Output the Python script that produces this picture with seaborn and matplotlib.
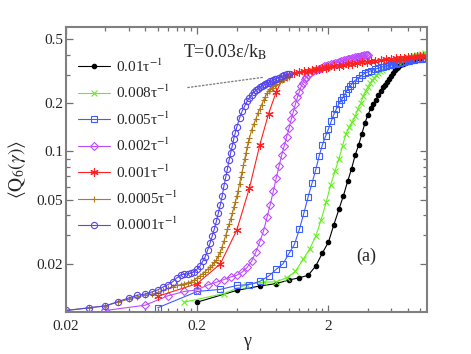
import matplotlib
matplotlib.use('Agg')
import matplotlib.pyplot as plt
import seaborn as sns
from matplotlib.ticker import FixedLocator, NullFormatter, LogLocator

# strain gamma and <Q6(gamma)> for each shear rate
g_001 = [0.2, 0.4, 0.6, 0.8, 1.0, 1.2, 1.4, 1.6, 1.8, 2.0, 2.2, 2.4, 2.6, 2.8, 3.0,
         3.2, 3.4, 3.6, 3.8, 4.0, 4.2, 4.4, 4.6, 4.8, 5.0, 5.2, 5.4, 5.6, 5.8, 6.0,
         6.2, 6.4, 6.6, 6.8, 7.0, 7.2, 7.4, 7.6, 7.8, 8.0, 8.4, 8.8, 9.2, 9.6, 10.0, 10.4]
q_001 = [0.0115, 0.0136, 0.0145, 0.0150, 0.0158, 0.0163, 0.0169, 0.0193, 0.0233, 0.0272,
         0.0350, 0.0434, 0.053, 0.065, 0.078, 0.095, 0.110, 0.129, 0.151, 0.169,
         0.185, 0.198, 0.210, 0.224, 0.239, 0.250, 0.260, 0.270, 0.283, 0.296,
         0.309, 0.320, 0.330, 0.337, 0.343, 0.348, 0.352, 0.355, 0.359, 0.362,
         0.367, 0.372, 0.376, 0.380, 0.383, 0.386]

g_0008 = [0.16, 0.32, 0.48, 0.64, 0.8, 0.96, 1.12, 1.28, 1.44, 1.6, 1.76, 1.92, 2.08, 2.24,
          2.4, 2.56, 2.72, 2.88, 3.04, 3.2, 3.36, 3.52, 3.68, 3.84, 4.0, 4.16, 4.32, 4.48,
          4.64, 4.8, 4.96, 5.12, 5.44, 5.76, 6.08, 6.4, 6.72, 7.04, 7.36, 7.68, 8.0, 8.48,
          8.96, 9.44, 9.92, 10.4, 10.88]
q_0008 = [0.0115, 0.0130, 0.0148, 0.0153, 0.0154, 0.0163, 0.0179, 0.0212, 0.0247, 0.0296,
          0.0376, 0.0481, 0.0620, 0.0750, 0.0895, 0.108, 0.129, 0.141, 0.153, 0.166,
          0.184, 0.200, 0.220, 0.238, 0.251, 0.265, 0.277, 0.287, 0.297, 0.306,
          0.316, 0.322, 0.333, 0.342, 0.350, 0.356, 0.362, 0.368, 0.372, 0.377,
          0.381, 0.387, 0.391, 0.395, 0.400, 0.404, 0.408]

g_0005 = [0.1, 0.2, 0.3, 0.4, 0.5, 0.6, 0.7, 0.8, 0.9, 1.0, 1.1, 1.2, 1.3, 1.4, 1.5,
          1.6, 1.7, 1.8, 1.9, 2.0, 2.1, 2.2, 2.3, 2.4, 2.5, 2.6, 2.7, 2.8, 2.9, 3.0,
          3.2, 3.4, 3.6, 3.8, 4.0, 4.25, 4.5, 4.75, 5.0, 5.25, 5.5, 5.75, 6.0, 6.25,
          6.5, 6.75, 7.0, 7.25, 7.5, 7.75, 8.0, 8.25, 8.5, 8.75, 9.0, 9.25, 9.5, 9.75,
          10.0, 10.25, 10.5]
q_0005 = [0.0106, 0.0134, 0.0138, 0.0146, 0.0148, 0.0155, 0.0167, 0.0184, 0.0199, 0.0231,
          0.0263, 0.0326, 0.0413, 0.0520, 0.0635, 0.0768, 0.0938, 0.110, 0.124, 0.138,
          0.154, 0.170, 0.184, 0.197, 0.208, 0.219, 0.231, 0.244, 0.254, 0.261,
          0.277, 0.286, 0.297, 0.307, 0.312, 0.318, 0.324, 0.329, 0.333, 0.337,
          0.340, 0.343, 0.346, 0.349, 0.352, 0.355, 0.357, 0.359, 0.361, 0.363,
          0.365, 0.367, 0.369, 0.371, 0.372, 0.374, 0.375, 0.376, 0.377, 0.378, 0.379]

g_0002 = [0.04, 0.08, 0.12, 0.16, 0.20, 0.24, 0.28, 0.32, 0.36, 0.40, 0.44, 0.48,
          0.52, 0.56, 0.60, 0.64, 0.68, 0.72, 0.76, 0.80, 0.84, 0.88, 0.92, 0.96,
          1.00, 1.04, 1.08, 1.12, 1.16, 1.20, 1.24, 1.28, 1.32, 1.36, 1.40, 1.44,
          1.52, 1.6, 1.68, 1.76, 1.84, 1.92, 2.0, 2.08, 2.16, 2.24, 2.32, 2.4,
          2.48, 2.56, 2.64, 2.72, 2.8, 2.88, 2.96, 3.04, 3.12, 3.2, 3.28, 3.36,
          3.44, 3.52, 3.6, 3.68, 3.76, 3.84, 3.92, 4.0]
q_0002 = [0.0102, 0.0110, 0.0126, 0.0134, 0.0137, 0.0147, 0.0153, 0.0159, 0.0165, 0.0169,
          0.0177, 0.0189, 0.0207, 0.0236, 0.0274, 0.0319, 0.0387, 0.0466, 0.0565, 0.0680,
          0.0808, 0.0945, 0.108, 0.123, 0.139, 0.158, 0.176, 0.197, 0.217, 0.234,
          0.255, 0.268, 0.282, 0.290, 0.299, 0.308,
          0.315, 0.321, 0.327, 0.332, 0.338, 0.342, 0.345, 0.348, 0.352, 0.354,
          0.357, 0.361, 0.364, 0.366, 0.368, 0.371, 0.373, 0.375, 0.378, 0.379,
          0.382, 0.384, 0.386, 0.387, 0.389, 0.391, 0.392, 0.393, 0.395, 0.396,
          0.397, 0.398]

g_0001 = [0.1, 0.2, 0.3, 0.4, 0.5, 0.6, 0.7, 0.8, 0.9, 1.0, 1.1, 1.2, 1.3, 1.4, 1.5,
          1.6, 1.7, 1.8, 1.9, 2.0, 2.2, 2.4, 2.6, 2.8, 3.0, 3.3, 3.6, 3.9, 4.2, 4.5,
          5.0, 5.5, 6.0, 6.5, 7.0, 7.5, 8.0, 8.5, 9.0, 9.5, 10.0, 10.5, 11.0]
q_0001 = [0.0125, 0.0150, 0.0199, 0.0322, 0.0591, 0.1098, 0.1718, 0.2343, 0.2850, 0.2988,
          0.3053, 0.3096, 0.3141, 0.3177, 0.3209, 0.3241, 0.3265, 0.3293, 0.3317, 0.3340,
          0.3384, 0.3419, 0.3453, 0.3478, 0.3508, 0.3543, 0.3573, 0.3604, 0.3635, 0.3661,
          0.3692, 0.3730, 0.3762, 0.3789, 0.3811, 0.3833, 0.3849, 0.3866, 0.3882, 0.3899,
          0.3911, 0.3928, 0.3945]

g_00005 = [0.02, 0.03, 0.04, 0.05, 0.06, 0.07, 0.08, 0.09, 0.10, 0.11, 0.12, 0.13, 0.14,
           0.15, 0.16, 0.17, 0.18, 0.19, 0.20, 0.21, 0.22, 0.23, 0.24, 0.25, 0.26, 0.27,
           0.28, 0.29, 0.30, 0.31, 0.32, 0.33, 0.34, 0.35, 0.36, 0.37, 0.38, 0.39, 0.40,
           0.41, 0.42, 0.43, 0.44, 0.45, 0.46, 0.47, 0.48, 0.49, 0.50,
           0.52, 0.54, 0.56, 0.58, 0.60, 0.62, 0.64, 0.66, 0.68, 0.70, 0.72, 0.74, 0.76,
           0.78, 0.80, 0.84, 0.88, 0.92, 0.96, 1.00]
q_00005 = [0.0102, 0.0106, 0.0109, 0.0115, 0.0120, 0.0124, 0.0127, 0.0129, 0.0132, 0.0136,
           0.0140, 0.0143, 0.0146, 0.0148, 0.0150, 0.0152, 0.0154, 0.0158, 0.0163, 0.0168,
           0.0173, 0.0178, 0.0184, 0.0190, 0.0195, 0.0203, 0.0210, 0.0223, 0.0236, 0.0255,
           0.0276, 0.0300, 0.0326, 0.0352, 0.0379, 0.0410, 0.0449, 0.0480, 0.0523, 0.0569,
           0.0626, 0.0691, 0.0748, 0.0819, 0.0892, 0.0972, 0.106, 0.114, 0.121,
           0.136, 0.148, 0.159, 0.173, 0.184, 0.195, 0.208, 0.219, 0.229, 0.238,
           0.244, 0.249, 0.255, 0.260, 0.264, 0.271, 0.277, 0.283, 0.288, 0.292]

g_00001 = [0.02, 0.03, 0.04, 0.05, 0.06, 0.07, 0.08, 0.09, 0.10, 0.11, 0.12, 0.13, 0.14,
           0.15, 0.16, 0.17, 0.18, 0.19, 0.20, 0.21, 0.22, 0.23, 0.24, 0.25, 0.26, 0.27,
           0.28, 0.29, 0.30, 0.31, 0.32, 0.33, 0.34, 0.35, 0.36, 0.37, 0.38, 0.39, 0.40,
           0.42, 0.44, 0.46, 0.48, 0.50, 0.52, 0.54, 0.56, 0.58, 0.60, 0.62, 0.64, 0.66,
           0.68, 0.70, 0.72, 0.74, 0.76, 0.78, 0.80, 0.84, 0.88, 0.92, 0.96, 1.00]
q_00001 = [0.0102, 0.0106, 0.0109, 0.0116, 0.0122, 0.0127, 0.0129, 0.0133, 0.0137, 0.0143,
           0.0148, 0.0154, 0.0163, 0.0170, 0.0172, 0.0172, 0.0174, 0.0178, 0.0185, 0.0193,
           0.0206, 0.0220, 0.0242, 0.0267, 0.0296, 0.0328, 0.0367, 0.0413, 0.0464, 0.0526,
           0.0611, 0.0690, 0.0779, 0.0880, 0.0981, 0.108, 0.120, 0.130, 0.141,
           0.161, 0.178, 0.191, 0.205, 0.216, 0.225, 0.234, 0.240, 0.246, 0.251,
           0.255, 0.259, 0.262, 0.265, 0.268, 0.272, 0.274, 0.277, 0.280, 0.283,
           0.288, 0.293, 0.297, 0.301, 0.304]

rates = ['0.01', '0.008', '0.005', '0.002', '0.001', '0.0005', '0.0001']
gammas = [g_001, g_0008, g_0005, g_0002, g_0001, g_00005, g_00001]
q6 = [q_001, q_0008, q_0005, q_0002, q_0001, q_00005, q_00001]

styles = [
    dict(color='black', marker='o', ms=3.2, mfc='black'),
    dict(color='#66ee22', marker='x', ms=4.5, mfc='none'),
    dict(color='#3d5eff', marker='s', ms=4, mfc='none'),
    dict(color='#bb4dff', marker='D', ms=4, mfc='none'),
    dict(color='#ff2020', marker=(6, 2, 0), ms=6, mfc='#ff2020'),
    dict(color='#b07a18', marker='+', ms=5, mfc='none'),
    dict(color='#5547f0', marker='o', ms=4.5, mfc='none'),
]

sns.set_style('ticks')
plt.rcParams['font.family'] = ['Liberation Serif', 'DejaVu Serif']
plt.rcParams['mathtext.fontset'] = 'stix'

fig = plt.figure(figsize=(4.71, 3.54), dpi=100)
ax = fig.add_axes([0.140, 0.119, 0.767, 0.805])

for rate, g, q, st in zip(rates, gammas, q6, styles):
    sns.lineplot(x=g, y=q, ax=ax, sort=False, estimator=None,
                 label=rate + r'τ$^{-1}$', lw=0.8, mew=0.8, mec=st['color'], **st)

ax.set_xscale('log')
ax.set_yscale('log')
ax.set_xlim(0.02, 11.3)
ax.set_ylim(0.01, 0.595)

ax.xaxis.set_major_locator(FixedLocator([0.02, 0.2, 2]))
ax.xaxis.set_minor_locator(FixedLocator([0.02 * k * 10 ** n for n in range(3) for k in range(2, 10)]))
ax.set_xticklabels(['0.02', '0.2', '2'])
ax.xaxis.set_minor_formatter(NullFormatter())
ax.yaxis.set_major_locator(FixedLocator([0.02, 0.05, 0.1, 0.2, 0.5]))
ax.yaxis.set_minor_locator(LogLocator(base=10, subs=range(2, 10)))
ax.set_yticklabels(['0.02', '0.05', '0.1', '0.2', '0.5'])
ax.yaxis.set_minor_formatter(NullFormatter())

ax.tick_params(which='both', direction='in', top=True, right=True, color='#707070', width=0.9)
ax.tick_params(which='major', length=5, labelsize=11)
ax.tick_params(which='minor', length=3)
ax.tick_params(axis='x', which='major', pad=6)
ax.tick_params(axis='y', which='major', pad=2)
for sp in ax.spines.values():
    sp.set_color('#808080')
    sp.set_linewidth(1.5)

ax.set_xlabel('γ', fontsize=13)
ax.xaxis.set_label_coords(0.5, -0.075)
ax.set_ylabel(r'$\langle\mathrm{Q}_6(\gamma)\rangle$', fontsize=14)
ax.yaxis.set_label_coords(-0.105, 0.5)

ax.text(0.324, 0.912, r'T=0.03ε/k$_\mathrm{B}$', transform=ax.transAxes, fontsize=13, va='center')
ax.text(0.831, 0.196, '(a)', transform=ax.transAxes, fontsize=13, ha='center', va='center')
ax.annotate('', xy=(0.557, 0.825), xytext=(0.330, 0.786), xycoords='axes fraction',
            arrowprops=dict(arrowstyle='-', ls=':', color='gray', lw=1))

ax.legend(loc='upper left', bbox_to_anchor=(0.033, 0.893), frameon=False, fontsize=11,
          borderpad=0, borderaxespad=0, handlelength=2.1, handletextpad=0.4, labelspacing=0.6)

fig.savefig('out.png', dpi=100)
